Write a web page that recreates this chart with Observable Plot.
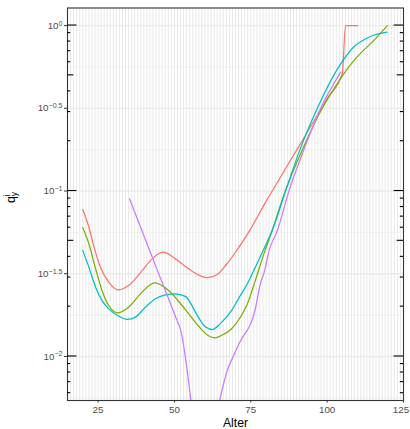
<!DOCTYPE html>
<html><head><meta charset="utf-8">
<script src="https://cdn.jsdelivr.net/npm/d3@7"></script>
<script src="https://cdn.jsdelivr.net/npm/@observablehq/plot@0.6"></script>
<style>
body{margin:0;background:#fff;}
#chart svg{font-family:"Liberation Sans",Arial,Helvetica,sans-serif;display:block;}
</style>
</head><body><div id="chart"></div>
<script>
// ---- data (log10 of q) ----
const redAge = [20,22,24,26,28.5,31.5,35,39.5,42.7,46.3,50.3,54.7,58,61,64,67,70,75,80,85,90,95,100,105,106,110];
const redLog = [-1.112,-1.219,-1.36,-1.47,-1.551,-1.597,-1.571,-1.48,-1.41,-1.37,-1.41,-1.47,-1.508,-1.524,-1.505,-1.444,-1.37,-1.227,-1.063,-0.908,-0.753,-0.598,-0.442,-0.287,0,0];

const oliveAge = [20,22,24.2,26.3,28.5,31.4,35,39.4,43.5,48.1,52.5,54.7,58,61,63.3,66,68.5,71.7,73.9,76.5,79.3,82,86.3,91.9,98.4,103,107.1,111,115.3,119.7];
const oliveLog = [-1.222,-1.319,-1.47,-1.601,-1.692,-1.736,-1.702,-1.611,-1.555,-1.601,-1.692,-1.742,-1.819,-1.873,-1.887,-1.867,-1.837,-1.76,-1.682,-1.54,-1.38,-1.239,-1.0,-0.75,-0.5,-0.36,-0.25,-0.167,-0.09,0];

const cyanAge = [20,22,24.2,26.3,28.5,31.4,34.5,37.2,40.5,43.8,47,50.3,53.6,57.5,59.7,62.4,65.1,68.5,71,74,76.5,79.3,82,86.4,91.1,96.8,103.8,108.7,114.2,119.6];
const cyanLog = [-1.36,-1.46,-1.581,-1.662,-1.712,-1.752,-1.776,-1.762,-1.702,-1.651,-1.627,-1.621,-1.637,-1.752,-1.813,-1.837,-1.80,-1.728,-1.65,-1.556,-1.46,-1.35,-1.239,-1.0,-0.75,-0.5,-0.25,-0.13,-0.066,-0.04];

// purple leaves the panel at the bottom between ~55 and ~65 (two visible pieces)
const purpleAgeA = [35.3,42.3,45.5,50.2,52.3,55.4];
const purpleLogA = [-1.047,-1.379,-1.53,-1.752,-1.86,-2.266];
const purpleAgeB = [64.8,67.3,69.5,71.7,75,76.1,78.3,79.4,81,83.7,87.5,92.4,97.9,104.5];
const purpleLogB = [-2.266,-2.085,-1.99,-1.903,-1.80,-1.742,-1.55,-1.49,-1.36,-1.239,-1.0,-0.75,-0.5,-0.28];

const seriesNames = ["red","olive","cyan","purple","purple2"];
const seriesColors = ["#F8766D","#7CAE00","#00BFC4","#C77CFF","#C77CFF"];
const seriesAges = [redAge, oliveAge, cyanAge, purpleAgeA, purpleAgeB];
const seriesLogs = [redLog, oliveLog, cyanLog, purpleLogA, purpleLogB];

const xTicks = [25,50,75,100,125];
const yTickExps = [0,-0.5,-1,-1.5,-2];
const yMinorExps = [-0.25,-0.75,-1.25,-1.75,-2.25];
const xLabel = "Alter";

// ---- build tables ----
const rows = seriesNames.flatMap((s,k) => seriesAges[k].map((a,i) => ({series:s, age:a, q:Math.pow(10, seriesLogs[k][i])})));
const yDomain = [Math.pow(10,-2.266), Math.pow(10,0.106)];
const xDomain = [15,125];
const yearLines = d3.range(15,126);
const logTicks = [];
for (let k=-3;k<=0;k++) for (let d=1; d<=9; d++) {
  const v = d*Math.pow(10,k);
  if (v>=yDomain[0] && v<=yDomain[1]) logTicks.push({v, kind: d===1?"long":(d===5?"mid":"short")});
}
const W=410,H=429,mL=67,mR=7,mT=7.5,mB=29;
const tickLen = {long:9.4, mid:6.3, short:3.2};

const marks = [
  Plot.ruleX(yearLines, {x:d=>d, stroke:"#e9e9e9", strokeWidth:1}),
  Plot.ruleY(yMinorExps, {y:d=>Math.pow(10,d), stroke:"#ebebeb", strokeWidth:0.7}),
  Plot.ruleY(yTickExps, {y:d=>Math.pow(10,d), stroke:"#ebebeb", strokeWidth:1.3}),
  ...seriesNames.map((s,k) => Plot.line(rows.filter(r=>r.series===s), {x:"age", y:"q", stroke:seriesColors[k], strokeWidth:1.25, curve:"monotone-x"})),
  Plot.frame({stroke:"#333", strokeWidth:1.1}),
  Plot.axisX({ticks:xTicks, tickSize:2.5, tickPadding:3, fontSize:9.8, fill:"#4D4D4D", stroke:"#333", label:null}),
  Plot.axisY({ticks:yTickExps.map(e=>Math.pow(10,e)), tickSize:3, tickPadding:2, fontSize:9.8, fill:"#4D4D4D", stroke:"#333", label:null,
    tickFormat: d => "10^" + (Math.round(Math.log10(d)*10)/10)}),
  Plot.text([xLabel], {frameAnchor:"bottom", dy:23, fontSize:12.2, fill:"#000", lineAnchor:"middle", text:d=>d})
];

const svg = Plot.plot({
  width:W, height:H, marginLeft:mL, marginRight:mR, marginTop:mT, marginBottom:mB,
  x:{domain:xDomain, axis:null},
  y:{type:"log", domain:yDomain, axis:null},
  marks
});

// log ticks inside left and right frame edges, placed through Plot's own scales
const ys = svg.scale("y"), xs = svg.scale("x");
const xLeft = xs.apply(xDomain[0]), xRight = xs.apply(xDomain[1]);
const tg = d3.select(svg).append("g").attr("stroke","#000").attr("stroke-width",1.1);
logTicks.forEach(t => {
  const y = ys.apply(t.v), L = tickLen[t.kind];
  tg.append("line").attr("x1",xLeft).attr("x2",xLeft+L).attr("y1",y).attr("y2",y);
  tg.append("line").attr("x1",xRight-L).attr("x2",xRight).attr("y1",y).attr("y2",y);
});

// superscripts on y tick labels
d3.select(svg).selectAll('g[aria-label="y-axis tick label"] text').each(function(){
  const t = d3.select(this);
  const s = t.text();
  const parts = s.split("^");
  t.text(null);
  t.append("tspan").text(parts[0]);
  t.append("tspan").attr("dy","-0.45em").attr("font-size","0.72em").text(parts[1].replace("-","\u2212"));
});
// keep the last x label inside the window
const xl = d3.select(svg).selectAll('g[aria-label="x-axis tick label"] text').nodes();
if (xl.length) d3.select(xl[xl.length-1]).attr("dx", -2.5);

// y axis title q_y^i
const yt = d3.select(svg).append("text")
  .attr("transform","translate(14.5,197.5) rotate(-90)")
  .attr("text-anchor","middle").attr("font-size",12.2).attr("fill","#000");
yt.append("tspan").text("q");
yt.append("tspan").attr("dy","0.3em").attr("font-size","0.7em").text("y");
yt.append("tspan").attr("dx","-4.2").attr("dy","-0.85em").attr("font-size","0.7em").text("i");

document.getElementById("chart").appendChild(svg);
</script>
</body></html>
